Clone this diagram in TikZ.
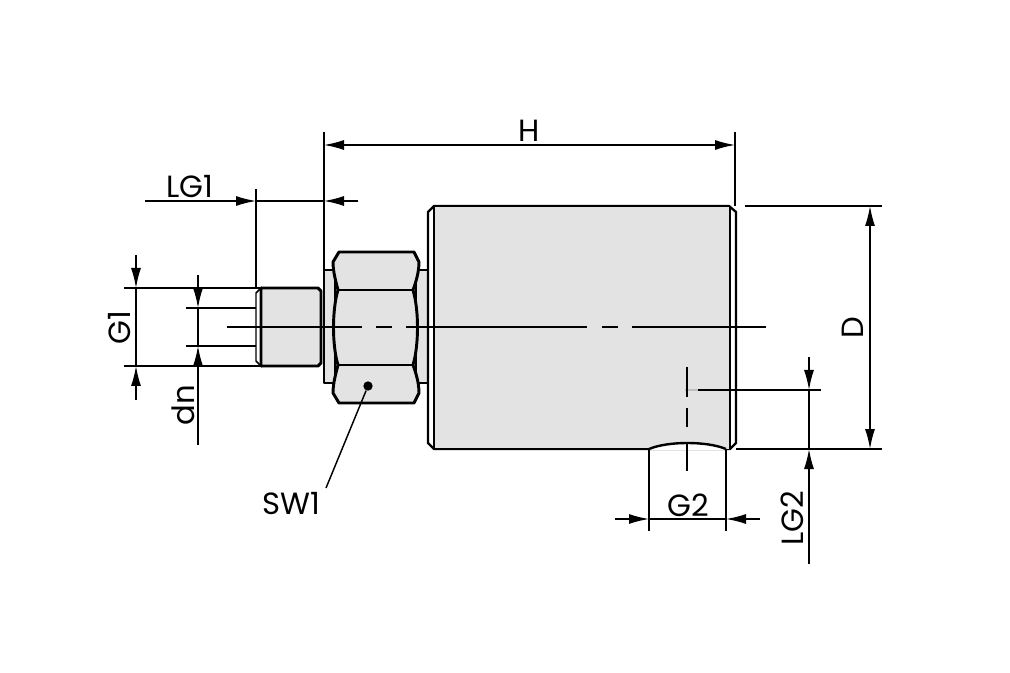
\documentclass[tikz,border=0pt]{standalone}
\usepackage{fontspec}
\setmainfont{Poppins}
\usetikzlibrary{arrows.meta}
\usetikzlibrary{positioning}
\definecolor{bodygray}{HTML}{E3E3E3}
\tikzset{thin line/.style={draw,line width=1.1pt},
	thick line/.style={draw,line width=2.2pt},
	part/.style={thick line,fill=bodygray,line join=round},
	dim tip/.style={-{Latex[length=15pt,width=7.5pt]}},
	dim both/.style={{Latex[length=15pt,width=7.5pt]}-{Latex[length=15pt,width=7.5pt]}},
	dim label/.style={font=\fontsize{23}{23}\selectfont,inner sep=0pt}}
\begin{document}
\begin{tikzpicture}[x=0.75pt,y=-0.75pt]
	\useasboundingbox (0,0) rectangle (1010,673);

	% flange, big body
	\path[part] (324,270) rectangle (335,383);
	\path[part] (416,270) rectangle (428,383);
	\path[draw,line width=1.7pt,fill=white] (428,212) -- (434,206) -- (729,206) -- (736,212) -- (736,443) -- (730,449) -- (434,449) -- (428,443) -- cycle;
	\path[fill=bodygray] (434,206) rectangle (729,449);
	\path[draw,line width=2.2pt] (434,206) -- (729,206) (434,449) -- (649,449);
	\path[thick line] (434,206) -- (434,449) (730,206) -- (730,449);

	% port G2
	\path[fill=white] (649,450) .. controls (668,441) and (707,441) .. (726,450) -- cycle;
	\path[draw,line width=1.8pt] (649,449) .. controls (668,441) and (707,441) .. (726,449);
	\path[draw,gray!50,line width=1.1pt] (685,390) -- (698,390);

	% threaded end
	\path[thin line,fill=white] (256,293) -- (261,288) -- (261,366) -- (256,361) -- cycle;
	\path[part] (261,288) -- (318,288) -- (321,291) -- (321,363) -- (318,366) -- (261,366) -- cycle;

	% hexagon nut
	\path[part] (339,252) -- (414,252) -- (419,262) .. controls (419,272) and (416,282) .. (413,290)
		.. controls (419,310) and (419,345) .. (413,365) .. controls (416,373) and (419,383) .. (419,393)
		-- (414,403) -- (339,403) -- (333,393) .. controls (333,383) and (336,373) .. (338,365)
		.. controls (332,345) and (332,310) .. (338,290) .. controls (336,282) and (333,272) .. (333,262) -- cycle;
	\path[thick line] (338,290) -- (413,290) (338,365) -- (413,365);

	% center lines
	\path[thin line] (227,327) -- (362,327) (376,327) -- (392,327) (406,327) -- (587,327)
		(602,327) -- (618,327) (632,327) -- (766,327);
	\path[thin line] (687,367) -- (687,397) (687,408) -- (687,427) (687,442) -- (687,471);

	% extension lines
	\coordinate (h_{l}) at (324,145);
	\coordinate (h_{r}) at (735,145);
	\coordinate (lg1_{l}) at (256,201);
	\coordinate (lg1_{r}) at (324,201);
	\coordinate (g1_{t}) at (136,288);
	\coordinate (g1_{b}) at (136,366);
	\coordinate (dn_{t}) at (198,308);
	\coordinate (dn_{b}) at (198,346);
	\coordinate (g2_{l}) at (649,519);
	\coordinate (g2_{r}) at (726,519);
	\coordinate (lg2_{t}) at (809,390);
	\coordinate (lg2_{b}) at (809,449);
	\coordinate (d_{t}) at (870,206);
	\coordinate (d_{b}) at (870,449);
	\path[thin line]
	(324,132) -- (324,270)
	(735,132) -- (735,206)
	(256,189) -- (256,288)
	(124,288) -- (260,288)
	(124,366) -- (260,366)
	(186,308) -- (256,308)
	(186,346) -- (256,346)
	(649,449) -- (649,531)
	(726,449) -- (726,531)
	(698,390) -- (821,390)
	(736,449) -- (882,449)
	(745,206) -- (882,206);

	% dimensions
	\path[thin line,dim both] (h_{l}) -- (h_{r});
	\path[thin line,dim both] (d_{t}) -- (d_{b});
	\path[thin line] (lg1_{l}) -- (lg1_{r}) (g1_{t}) -- (g1_{b}) (dn_{t}) -- (dn_{b}) (g2_{l}) -- (g2_{r}) (lg2_{t}) -- (lg2_{b});
	\path[thin line,dim tip] (145,201) -- (lg1_{l});
	\path[thin line,dim tip] (358,201) -- (lg1_{r});
	\path[thin line,dim tip] (136,255) -- (g1_{t});
	\path[thin line,dim tip] (136,400) -- (g1_{b});
	\path[thin line,dim tip] (198,275) -- (dn_{t});
	\path[thin line,dim tip] (198,445) -- (dn_{b});
	\path[thin line,dim tip] (615,519) -- (g2_{l});
	\path[thin line,dim tip] (760,519) -- (g2_{r});
	\path[thin line,dim tip] (809,357) -- (lg2_{t});
	\path[thin line,dim tip] (809,564) -- (lg2_{b});

	% labels
	\node[dim label] (h_{text}) at (529,131) {H};
	\node[dim label] (lg1_{text}) at (190,187) {LG1};
	\node[dim label,rotate=90] (g1_{text}) at (120,328) {G1};
	\node[dim label,rotate=90] (dn_{text}) at (183,405) {dn};
	\node[dim label] (g2_{text}) at (688,505) {G2};
	\node[dim label,rotate=90] (lg2_{text}) at (792,518) {LG2};
	\node[dim label,rotate=90] (d_{text}) at (853,328) {D};
	\node[dim label] (sw1_{text}) at (291,504) {SW1};
	\node[circle,fill=black,minimum size=7pt,inner sep=0pt] (sw1_{dot}) at (368,386) {};
	\path[thin line] (sw1_{dot}) -- (326,488);
\end{tikzpicture}
\end{document}
